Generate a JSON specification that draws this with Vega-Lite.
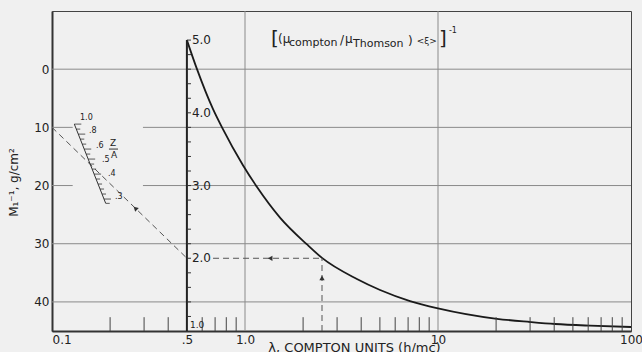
{
  "$schema": "https://vega.github.io/schema/vega-lite/v6.json",
  "width": 579,
  "height": 320,
  "autosize": {"type": "none"},
  "padding": {"left": 52, "top": 11, "right": 11, "bottom": 21},
  "background": "#f0f0f0",
  "config": {
    "view": {"stroke": "#444", "strokeWidth": 1},
    "font": "DejaVu Sans",
    "text": {"font": "DejaVu Sans", "color": "#222"},
    "axis": {"labelFont": "DejaVu Sans", "titleFont": "DejaVu Sans", "labelColor": "#222", "titleColor": "#222"}
  },
  "layer": [
    {
      "layer": [
        {
          "data": {"values": [
            {"M": 0, "lam": 0.1, "lam2": 100},
            {"M": 10, "lam": 0.1, "lam2": 0.128},
            {"M": 10, "lam": 0.296, "lam2": 100},
            {"M": 20, "lam": 0.1, "lam2": 0.128},
            {"M": 20, "lam": 0.296, "lam2": 100},
            {"M": 30, "lam": 0.1, "lam2": 100},
            {"M": 40, "lam": 0.1, "lam2": 100}
          ]},
          "mark": {"type": "rule", "color": "#8a8a8a", "strokeWidth": 1},
          "encoding": {
            "x": {"field": "lam", "type": "quantitative",
              "scale": {"type": "log", "domain": [0.1, 100], "nice": false},
              "axis": {
                "values": [0.1, 0.5, 1, 10, 100],
                "labelExpr": "datum.value < 0.2 ? '0.1' : datum.value < 0.9 ? '.5' : datum.value < 2 ? '1.0' : datum.value < 20 ? '10' : '100'",
                "labelFlush": false,
                "labelOverlap": false,
                "labelAlign": {"condition": {"test": "datum.value < 0.2", "value": "left"}, "value": "center"},
                "labelFontSize": 12, "labelPadding": 3,
                "ticks": false, "grid": false,
                "domain": true, "domainColor": "#333", "domainWidth": 2,
                "title": "λ, COMPTON UNITS (h/mc)",
                "titleFontSize": 13, "titleFontWeight": "normal",
                "titleX": 302, "titleY": 10, "titleBaseline": "top"
              }},
            "x2": {"field": "lam2"},
            "y": {"field": "M", "type": "quantitative",
              "scale": {"domain": [-10, 45], "reverse": true, "nice": false, "zero": false},
              "axis": {
                "values": [0, 10, 20, 30, 40],
                "labelFontSize": 12, "labelPadding": 3,
                "ticks": false, "grid": false,
                "domain": true, "domainColor": "#333", "domainWidth": 2,
                "title": "M₁⁻¹, g/cm²",
                "titleFontSize": 12, "titleFontWeight": "normal",
                "titleX": -32, "titleY": 171
              }}
          }
        },
        {
          "data": {"values": [{"lam": 1}, {"lam": 10}]},
          "mark": {"type": "rule", "color": "#8a8a8a", "strokeWidth": 1},
          "encoding": {"x": {"field": "lam", "type": "quantitative"}}
        },
        {
          "data": {"values": [{"lam": 0.1, "lam2": 0.5, "M": 10, "M2": 32.49}]},
          "mark": {"type": "rule", "color": "#555", "strokeWidth": 1, "strokeDash": [6, 4]},
          "encoding": {
            "x": {"field": "lam", "type": "quantitative"},
            "x2": {"field": "lam2"},
            "y": {"field": "M", "type": "quantitative"},
            "y2": {"field": "M2"}
          }
        },
        {
          "data": {"values": [{"lam": 0.272, "M": 24.0}]},
          "mark": {"type": "point", "shape": "triangle", "angle": 314, "filled": true, "size": 28, "color": "#333", "opacity": 1},
          "encoding": {
            "x": {"field": "lam", "type": "quantitative"},
            "y": {"field": "M", "type": "quantitative"}
          }
        },
        {
          "data": {"values": [{"lam": 0.1305, "lam2": 0.1898, "M": 9.44, "M2": 23.06}]},
          "mark": {"type": "rule", "color": "#333", "strokeWidth": 1},
          "encoding": {
            "x": {"field": "lam", "type": "quantitative"},
            "x2": {"field": "lam2"},
            "y": {"field": "M", "type": "quantitative"},
            "y2": {"field": "M2"}
          }
        },
        {
          "data": {"values": [
            {"lam": 0.1305, "lam2": 0.1419, "M": 9.44},
            {"lam": 0.1336, "lam2": 0.1401, "M": 10.30},
            {"lam": 0.1368, "lam2": 0.1487, "M": 11.16},
            {"lam": 0.1401, "lam2": 0.1470, "M": 12.02},
            {"lam": 0.1434, "lam2": 0.1504, "M": 12.88},
            {"lam": 0.1469, "lam2": 0.1597, "M": 13.73},
            {"lam": 0.1504, "lam2": 0.1578, "M": 14.59},
            {"lam": 0.1540, "lam2": 0.1674, "M": 15.45},
            {"lam": 0.1576, "lam2": 0.1653, "M": 16.31},
            {"lam": 0.1614, "lam2": 0.1693, "M": 17.17},
            {"lam": 0.1652, "lam2": 0.1796, "M": 18.03},
            {"lam": 0.1692, "lam2": 0.1775, "M": 18.88},
            {"lam": 0.1732, "lam2": 0.1817, "M": 19.74},
            {"lam": 0.1774, "lam2": 0.1861, "M": 20.60},
            {"lam": 0.1816, "lam2": 0.1905, "M": 21.46},
            {"lam": 0.1859, "lam2": 0.2021, "M": 22.32},
            {"lam": 0.1898, "lam2": 0.1991, "M": 23.06}
          ]},
          "mark": {"type": "rule", "color": "#333", "strokeWidth": 0.8},
          "encoding": {
            "x": {"field": "lam", "type": "quantitative"},
            "x2": {"field": "lam2"},
            "y": {"field": "M", "type": "quantitative"}
          }
        },
        {
          "data": {"values": [
            {"lam": 0.1397, "M": 8.41, "label": "1.0"},
            {"lam": 0.1555, "M": 10.64, "label": ".8"},
            {"lam": 0.1690, "M": 13.22, "label": ".6"},
            {"lam": 0.1816, "M": 15.62, "label": ".5"},
            {"lam": 0.1951, "M": 18.03, "label": ".4"},
            {"lam": 0.2121, "M": 21.97, "label": ".3"}
          ]},
          "mark": {"type": "text", "fontSize": 8, "align": "left", "baseline": "middle"},
          "encoding": {
            "x": {"field": "lam", "type": "quantitative"},
            "y": {"field": "M", "type": "quantitative"},
            "text": {"field": "label"}
          }
        },
        {
          "data": {"values": [
            {"lam": 0.2071, "M": 12.70, "label": "Z"},
            {"lam": 0.2096, "M": 14.76, "label": "A"}
          ]},
          "mark": {"type": "text", "fontSize": 9, "align": "center", "baseline": "middle"},
          "encoding": {
            "x": {"field": "lam", "type": "quantitative"},
            "y": {"field": "M", "type": "quantitative"},
            "text": {"field": "label"}
          }
        },
        {
          "data": {"values": [{"lam": 0.1973, "lam2": 0.2198, "M": 13.73}]},
          "mark": {"type": "rule", "color": "#333", "strokeWidth": 1},
          "encoding": {
            "x": {"field": "lam", "type": "quantitative"},
            "x2": {"field": "lam2"},
            "y": {"field": "M", "type": "quantitative"}
          }
        },
        {
          "data": {"values": [
            {"lam": 1.43, "M": -5.15, "label": "["},
            {"lam": 10.61, "M": -5.15, "label": "]"}
          ]},
          "mark": {"type": "text", "fontSize": 20, "align": "center", "baseline": "middle"},
          "encoding": {
            "x": {"field": "lam", "type": "quantitative"},
            "y": {"field": "M", "type": "quantitative"},
            "text": {"field": "label"}
          }
        },
        {
          "data": {"values": [
            {"lam": 1.483, "M": -5.15, "label": "(μ"},
            {"lam": 3.106, "M": -4.98, "label": "/"},
            {"lam": 3.297, "M": -5.15, "label": "μ"},
            {"lam": 6.99, "M": -4.8, "label": ")"}
          ]},
          "mark": {"type": "text", "fontSize": 12, "align": "left", "baseline": "middle"},
          "encoding": {
            "x": {"field": "lam", "type": "quantitative"},
            "y": {"field": "M", "type": "quantitative"},
            "text": {"field": "label"}
          }
        },
        {
          "data": {"values": [
            {"lam": 1.69, "M": -4.46, "label": "compton"},
            {"lam": 3.627, "M": -4.29, "label": "Thomson"}
          ]},
          "mark": {"type": "text", "fontSize": 11, "align": "left", "baseline": "middle"},
          "encoding": {
            "x": {"field": "lam", "type": "quantitative"},
            "y": {"field": "M", "type": "quantitative"},
            "text": {"field": "label"}
          }
        },
        {
          "data": {"values": [{"lam": 7.75, "M": -4.8, "label": "<ξ>"}]},
          "mark": {"type": "text", "fontSize": 9, "align": "left", "baseline": "middle"},
          "encoding": {
            "x": {"field": "lam", "type": "quantitative"},
            "y": {"field": "M", "type": "quantitative"},
            "text": {"field": "label"}
          }
        },
        {
          "data": {"values": [{"lam": 11.4, "M": -6.52, "label": "-1"}]},
          "mark": {"type": "text", "fontSize": 8, "align": "left", "baseline": "middle"},
          "encoding": {
            "x": {"field": "lam", "type": "quantitative"},
            "y": {"field": "M", "type": "quantitative"},
            "text": {"field": "label"}
          }
        }
      ]
    },
    {
      "layer": [
        {
          "data": {"values": [
            {"lam": 0.5, "v": 5.0},
            {"lam": 0.564, "v": 4.60},
            {"lam": 0.683, "v": 4.05},
            {"lam": 0.76, "v": 3.80},
            {"lam": 0.976, "v": 3.28},
            {"lam": 1.154, "v": 2.98},
            {"lam": 1.518, "v": 2.56},
            {"lam": 2.095, "v": 2.19},
            {"lam": 2.506, "v": 2.005},
            {"lam": 3.80, "v": 1.715},
            {"lam": 5.01, "v": 1.564},
            {"lam": 7.16, "v": 1.412},
            {"lam": 10, "v": 1.312},
            {"lam": 20.2, "v": 1.168},
            {"lam": 30, "v": 1.124},
            {"lam": 40.4, "v": 1.096},
            {"lam": 61.3, "v": 1.073},
            {"lam": 100, "v": 1.055}
          ]},
          "mark": {"type": "line", "color": "#1a1a1a", "strokeWidth": 1.8, "interpolate": "monotone"},
          "encoding": {
            "x": {"field": "lam", "type": "quantitative"},
            "y": {"field": "v", "type": "quantitative",
              "scale": {"domain": [1, 5.4], "nice": false, "zero": false},
              "axis": null}
          }
        },
        {
          "data": {"values": [{"lam": 0.5, "v": 1, "v2": 5}]},
          "mark": {"type": "rule", "color": "#222", "strokeWidth": 2},
          "encoding": {
            "x": {"field": "lam", "type": "quantitative"},
            "y": {"field": "v", "type": "quantitative"},
            "y2": {"field": "v2"}
          }
        },
        {
          "data": {"values": [
            {"v": 1.2}, {"v": 1.4}, {"v": 1.6}, {"v": 1.8}, {"v": 2.0},
            {"v": 2.2}, {"v": 2.4}, {"v": 2.6}, {"v": 2.8}, {"v": 3.0},
            {"v": 3.2}, {"v": 3.4}, {"v": 3.6}, {"v": 3.8}, {"v": 4.0},
            {"v": 4.2}, {"v": 4.4}, {"v": 4.6}, {"v": 4.8}, {"v": 5.0}
          ]},
          "mark": {"type": "rule", "color": "#333", "strokeWidth": 1},
          "encoding": {
            "x": {"datum": 0.5, "type": "quantitative"},
            "x2": {"datum": 0.525},
            "y": {"field": "v", "type": "quantitative"}
          }
        },
        {
          "data": {"values": [
            {"lam": 0.5, "v": 2, "label": "2.0"},
            {"lam": 0.5, "v": 3, "label": "3.0"},
            {"lam": 0.5, "v": 4, "label": "4.0"},
            {"lam": 0.5, "v": 5, "label": "5.0"}
          ]},
          "mark": {"type": "text", "fontSize": 12, "align": "left", "baseline": "middle", "dx": 5},
          "encoding": {
            "x": {"field": "lam", "type": "quantitative"},
            "y": {"field": "v", "type": "quantitative"},
            "text": {"field": "label"}
          }
        },
        {
          "data": {"values": [
            {"lam": 0.683, "lam2": 2.506, "v": 2.0, "v2": 2.0},
            {"lam": 2.506, "lam2": 2.506, "v": 1.0, "v2": 2.0}
          ]},
          "mark": {"type": "rule", "color": "#555", "strokeWidth": 1, "strokeDash": [6, 4]},
          "encoding": {
            "x": {"field": "lam", "type": "quantitative"},
            "x2": {"field": "lam2"},
            "y": {"field": "v", "type": "quantitative"},
            "y2": {"field": "v2"}
          }
        },
        {
          "data": {"values": [{"lam": 1.35, "v": 2.0}]},
          "mark": {"type": "point", "shape": "triangle-left", "filled": true, "size": 28, "color": "#333", "opacity": 1},
          "encoding": {
            "x": {"field": "lam", "type": "quantitative"},
            "y": {"field": "v", "type": "quantitative"}
          }
        },
        {
          "data": {"values": [{"lam": 2.506, "v": 1.73}]},
          "mark": {"type": "point", "shape": "triangle-up", "filled": true, "size": 28, "color": "#333", "opacity": 1},
          "encoding": {
            "x": {"field": "lam", "type": "quantitative"},
            "y": {"field": "v", "type": "quantitative"}
          }
        },
        {
          "data": {"values": [
            {"lam": 0.2}, {"lam": 0.3}, {"lam": 0.4}, {"lam": 0.6}, {"lam": 0.7}, {"lam": 0.8}, {"lam": 0.9},
            {"lam": 2}, {"lam": 3}, {"lam": 4}, {"lam": 5}, {"lam": 6}, {"lam": 7}, {"lam": 8}, {"lam": 9},
            {"lam": 20}, {"lam": 30}, {"lam": 40}, {"lam": 50}, {"lam": 60}, {"lam": 70}, {"lam": 80}, {"lam": 90}
          ]},
          "mark": {"type": "rule", "color": "#444", "strokeWidth": 1},
          "encoding": {
            "x": {"field": "lam", "type": "quantitative"},
            "y": {"datum": 1, "type": "quantitative"},
            "y2": {"datum": 1.19}
          }
        },
        {
          "data": {"values": [{"lam": 0.5, "v": 1.0, "label": "1.0"}]},
          "mark": {"type": "text", "fontSize": 9, "align": "left", "baseline": "middle", "dx": 3, "dy": -6},
          "encoding": {
            "x": {"field": "lam", "type": "quantitative"},
            "y": {"field": "v", "type": "quantitative"},
            "text": {"field": "label"}
          }
        }
      ]
    }
  ],
  "resolve": {"scale": {"y": "independent"}, "axis": {"y": "independent"}}
}
